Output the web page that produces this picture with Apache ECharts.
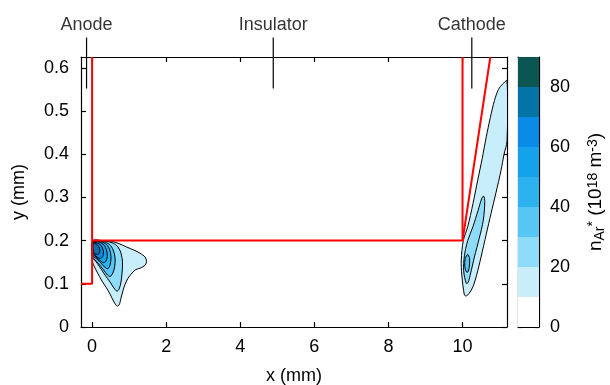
<!DOCTYPE html>
<html>
<head>
<meta charset="utf-8">
<script src="https://cdn.jsdelivr.net/npm/echarts@6/dist/echarts.min.js"></script>
<style>
  html, body { margin: 0; padding: 0; background: #fff; }
  #chart { width: 610px; height: 385px; }
</style>
</head>
<body>
<div id="chart"></div>
<script>
// axis ticks
const xTicks = [0, 2, 4, 6, 8, 10]
const yTicks = [0, 0.1, 0.2, 0.3, 0.4, 0.5, 0.6]
const cbTicks = [0, 20, 40, 60, 80]

// colour bands of n_Ar* (10^18 m^-3)
const bandLows = [0, 10, 20, 30, 40, 50, 60, 70, 80]
const bandColors = ['#ffffff', '#c8eefc', '#8edcfa', '#57c6f4', '#2cb3ef', '#14a2ea', '#0a8be6', '#0473a6', '#0b5552']

// electrode / insulator outline (mm)
const anodeWall = [[-0.3, 0.1], [0, 0.1], [0, 0.625]]
const insulatorEdge = [[0, 0.2], [10, 0.2], [10, 0.625]]
const cathodeSlant = [[10, 0.2], [10.75, 0.625]]

// labels above the plot
const markerNames = ['Anode', 'Insulator', 'Cathode']
const markerX = [-0.15, 4.89, 10.25]
const markerY = [0.552, 0.67]

// contour outlines, [x mm, y mm]
const anodeL10 = [[0.013,0.199],[0.216,0.2],[0.485,0.199],[0.7,0.194],[0.935,0.185],[1.13,0.178],[1.29,0.171],[1.43,0.162],[1.47,0.152],[1.43,0.143],[1.29,0.136],[1.16,0.132],[1.05,0.122],[0.97,0.113],[0.89,0.099],[0.836,0.085],[0.78,0.067],[0.73,0.051],[0.67,0.0485],[0.59,0.058],[0.485,0.076],[0.377,0.092],[0.27,0.106],[0.135,0.127],[0.054,0.141],[0.013,0.15]]
const anodeL20 = [[0.013,0.199],[0.35,0.199],[0.57,0.194],[0.7,0.185],[0.78,0.171],[0.82,0.15],[0.81,0.127],[0.78,0.104],[0.73,0.088],[0.67,0.083],[0.59,0.09],[0.485,0.104],[0.35,0.12],[0.19,0.141],[0.08,0.154],[0.013,0.16]]
const anodeL30 = [[0.013,0.198],[0.3,0.198],[0.47,0.191],[0.57,0.178],[0.62,0.16],[0.61,0.14],[0.56,0.125],[0.49,0.117],[0.42,0.12],[0.3,0.133],[0.17,0.147],[0.06,0.157],[0.013,0.162]]
const anodeL40 = [[0.013,0.197],[0.25,0.197],[0.39,0.191],[0.47,0.18],[0.51,0.163],[0.49,0.145],[0.43,0.135],[0.36,0.137],[0.25,0.147],[0.12,0.158],[0.013,0.165]]
const anodeL50 = [[0.015,0.196],[0.2,0.196],[0.32,0.19],[0.39,0.178],[0.41,0.163],[0.37,0.152],[0.3,0.149],[0.2,0.155],[0.08,0.164],[0.015,0.168]]
const anodeL60 = [[0.02,0.195],[0.15,0.194],[0.25,0.188],[0.3,0.177],[0.3,0.166],[0.24,0.159],[0.15,0.161],[0.06,0.168],[0.02,0.171]]
const anodeL70 = [[0.03,0.193],[0.11,0.192],[0.18,0.186],[0.21,0.177],[0.18,0.169],[0.11,0.168],[0.05,0.172],[0.03,0.175]]
const cathodeL10 = [[10.05,0.074],[9.98,0.12],[9.965,0.155],[10.02,0.2],[10.14,0.232],[10.28,0.285],[10.41,0.34],[10.53,0.39],[10.64,0.44],[10.75,0.485],[10.86,0.524],[10.97,0.55],[11.09,0.563],[11.2,0.57],[11.2,0.43],[11.12,0.4],[11.04,0.363],[10.9,0.31],[10.77,0.263],[10.64,0.215],[10.5,0.162],[10.38,0.12],[10.28,0.093],[10.18,0.078],[10.1,0.072]]
const cathodeL20 = [[10.1,0.101],[10.03,0.13],[10.05,0.165],[10.14,0.2],[10.28,0.232],[10.42,0.27],[10.52,0.298],[10.57,0.303],[10.6,0.29],[10.56,0.247],[10.45,0.205],[10.32,0.162],[10.22,0.125],[10.15,0.103]]
const cathodeL30 = [[10.1,0.128],[10.06,0.14],[10.07,0.158],[10.14,0.168],[10.19,0.158],[10.18,0.138],[10.14,0.127]]

const contourLevels = [10, 20, 30, 40, 50, 60, 70, 10, 20, 30]
const contourShapes = [anodeL10, anodeL20, anodeL30, anodeL40, anodeL50, anodeL60, anodeL70, cathodeL10, cathodeL20, cathodeL30]

const font = "'Liberation Sans', Arial, sans-serif"
const txt = { color: '#000', fontFamily: font, fontSize: 18 }

let myChart = echarts.init(document.getElementById('chart'))

const series = []

// filled contours
series.push({
  type: 'custom',
  xAxisIndex: 0,
  yAxisIndex: 0,
  clip: true,
  silent: true,
  data: contourShapes.map(s => s[0]),
  renderItem: function (params, api) {
    const pts = contourShapes[params.dataIndex].map(p => api.coord(p))
    const color = bandColors[bandLows.indexOf(contourLevels[params.dataIndex])]
    return {
      type: 'polygon',
      shape: { points: pts, smooth: 0.3 },
      style: { fill: color, stroke: '#000', lineWidth: 1 }
    }
  }
})

// red outline
;[anodeWall, insulatorEdge, cathodeSlant].forEach(d => {
  series.push({
    type: 'line', xAxisIndex: 0, yAxisIndex: 0, data: d,
    symbol: 'none', silent: true,
    lineStyle: { color: '#ff0000', width: 2 }
  })
})

// marker lines and names above the frame
markerX.forEach((x, i) => {
  series.push({
    type: 'line', xAxisIndex: 0, yAxisIndex: 0, clip: false,
    data: [[x, markerY[0]], [x, markerY[1]]],
    symbol: 'none', silent: true,
    lineStyle: { color: '#000', width: 1.2 }
  })
})
series.push({
  type: 'scatter', xAxisIndex: 0, yAxisIndex: 0, clip: false, silent: true,
  symbolSize: 0,
  data: markerX.map((x, i) => [x, markerY[1], markerNames[i]]),
  label: {
    show: true, position: 'top', distance: 4,
    formatter: p => p.value[2],
    ...txt
  }
})

// colour bar
series.push({
  type: 'custom',
  xAxisIndex: 2,
  yAxisIndex: 2,
  silent: true,
  data: bandLows.map(lo => [0, lo]),
  renderItem: function (params, api) {
    const lo = bandLows[params.dataIndex]
    const a = api.coord([0, lo])
    const b = api.coord([1, lo + 10])
    return {
      type: 'rect',
      shape: { x: a[0], y: b[1], width: b[0] - a[0], height: a[1] - b[1] },
      style: { fill: bandColors[params.dataIndex] }
    }
  }
})

const frameLine = { show: true, onZero: false, lineStyle: { color: '#000', width: 1.2 } }
const tickStyle = { color: '#000', width: 1.2 }

let option = {
  animation: false,
  backgroundColor: '#fff',
  grid: [
    { left: 81, top: 57, width: 426, height: 270, outerBoundsMode: 'none' },
    { left: 518, top: 57, width: 21, height: 270, outerBoundsMode: 'none' }
  ],
  xAxis: [
    {
      type: 'value', gridIndex: 0, position: 'bottom', min: -0.3, max: 11.2,
      name: 'x (mm)', nameLocation: 'middle', nameGap: 40, nameTextStyle: txt,
      axisLine: frameLine,
      axisTick: { inside: true, length: 5, customValues: xTicks, lineStyle: tickStyle },
      axisLabel: { customValues: xTicks, margin: 11, ...txt },
      splitLine: { show: false }
    },
    {
      type: 'value', gridIndex: 0, position: 'top', min: -0.3, max: 11.2,
      axisLine: frameLine,
      axisTick: { inside: true, length: 5, customValues: xTicks, lineStyle: tickStyle },
      axisLabel: { show: false },
      splitLine: { show: false }
    },
    {
      type: 'value', gridIndex: 1, position: 'bottom', min: 0, max: 1,
      axisLine: frameLine, axisTick: { show: false }, axisLabel: { show: false },
      splitLine: { show: false }
    },
    {
      type: 'value', gridIndex: 1, position: 'top', min: 0, max: 1,
      axisLine: frameLine, axisTick: { show: false }, axisLabel: { show: false },
      splitLine: { show: false }
    }
  ],
  yAxis: [
    {
      type: 'value', gridIndex: 0, position: 'left', min: 0, max: 0.625,
      name: 'y (mm)', nameLocation: 'middle', nameGap: 53, nameTextStyle: txt,
      axisLine: frameLine,
      axisTick: { inside: true, length: 5, customValues: yTicks, lineStyle: tickStyle },
      axisLabel: { customValues: yTicks, margin: 12, ...txt },
      splitLine: { show: false }
    },
    {
      type: 'value', gridIndex: 0, position: 'right', min: 0, max: 0.625,
      axisLine: frameLine,
      axisTick: { inside: true, length: 5, customValues: yTicks, lineStyle: tickStyle },
      axisLabel: { show: false },
      splitLine: { show: false }
    },
    {
      type: 'value', gridIndex: 1, position: 'right', min: 0, max: 90,
      axisLine: frameLine,
      axisTick: { inside: true, length: 4, customValues: cbTicks, lineStyle: tickStyle },
      axisLabel: { customValues: cbTicks, margin: 11, ...txt },
      splitLine: { show: false }
    },
    {
      type: 'value', gridIndex: 1, position: 'left', min: 0, max: 90,
      axisLine: frameLine,
      axisTick: { inside: true, length: 4, customValues: cbTicks, lineStyle: tickStyle },
      axisLabel: { show: false },
      splitLine: { show: false }
    }
  ],
  graphic: [
    {
      type: 'text', x: 596, y: 192, rotation: Math.PI / 2, silent: true,
      style: {
        text: '{n|n}{sub|Ar}{sup|*}{n| (10}{sup|18}{n| m}{sup|-3}{n|)}',
        align: 'center', verticalAlign: 'middle',
        fill: '#000', fontFamily: font, fontSize: 19,
        rich: {
          n: { fontSize: 19, lineHeight: 20, fontFamily: font, fill: '#000', verticalAlign: 'middle' },
          sup: { fontSize: 14, lineHeight: 14, padding: [0, 0, 24, 0], fontFamily: font, fill: '#000', verticalAlign: 'top' },
          sub: { fontSize: 14, lineHeight: 14, padding: [8, 0, 0, 0], fontFamily: font, fill: '#000', verticalAlign: 'middle' }
        }
      }
    }
  ],
  series: series
}

myChart.setOption(option)
</script>
</body>
</html>
